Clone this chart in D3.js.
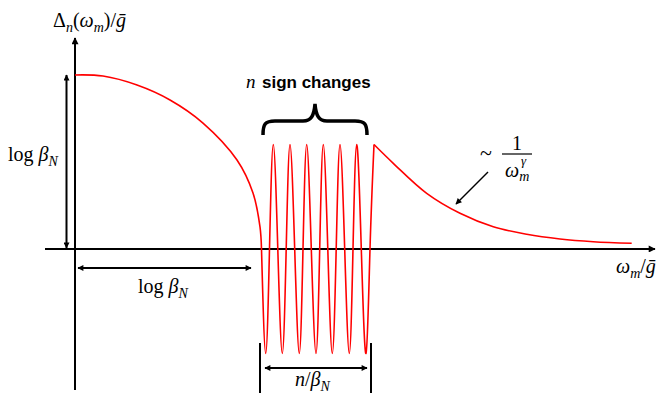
<!DOCTYPE html>
<html>
<head>
<meta charset="utf-8">
<script src="https://cdn.jsdelivr.net/npm/d3@7"></script>
<style>
  body { margin: 0; background: #fff; }
</style>
</head>
<body>
<div id="chart"></div>
<script>
// schematic gap function Delta_n(omega_m)
const omegaLeft = [0, 0.28, 0.62, 0.95, 1.28, 1.62, 1.78, 1.85, 1.865];
const deltaLeft = [1.666, 1.656, 1.570, 1.427, 1.206, 0.852, 0.536, 0.211, 0];

// oscillating region: zeros, troughs and peaks
const omegaOsc = [1.865, 1.907, 1.945, 1.983, 2.028, 2.073, 2.112, 2.15, 2.197, 2.243, 2.280, 2.317,
                  2.363, 2.41, 2.447, 2.483, 2.528, 2.573, 2.612, 2.65, 2.697, 2.743, 2.780, 2.817,
                  2.863, 2.91, 2.950, 2.99];
const deltaOsc = [0, -1, 0, 1, 0, -1, 0, 1, 0, -1, 0, 1,
                  0, -1, 0, 1, 0, -1, 0, 1, 0, -1, 0, 1,
                  0, -1, 0, 1];

// tail ~ 1/omega^gamma
const omegaTail = [2.99, 3.183, 3.517, 3.85, 4.183, 4.517, 4.85, 5.183, 5.567];
const deltaTail = [1, 0.820, 0.533, 0.342, 0.213, 0.141, 0.096, 0.070, 0.055];

const SERIF = 'Liberation Serif';
const SANS = 'Liberation Sans';

const W = 659, H = 396;
const svg = d3.select('#chart').append('svg').attr('width', W).attr('height', H);

const x = d3.scaleLinear().domain([-0.30, 5.80]).range([45, 655]);
const y = d3.scaleLinear().domain([-1.35, 2.02]).range([390, 38]);

const zip = (a, b) => a.map((w, i) => [w, b[i]]);

// arrow heads
const defs = svg.append('defs');
const mk = (id, w, h) => defs.append('marker')
  .attr('id', id).attr('viewBox', '0 0 10 10')
  .attr('refX', 9).attr('refY', 5)
  .attr('markerWidth', w).attr('markerHeight', h)
  .attr('markerUnits', 'userSpaceOnUse')
  .attr('orient', 'auto-start-reverse')
  .append('path').attr('d', 'M0,0 L10,5 L0,10 Z').attr('fill', '#000');
mk('ax', 9, 7);
mk('ar', 8, 6);

// axes
svg.append('line')
  .attr('x1', x(0)).attr('x2', x(0)).attr('y1', y(-1.35)).attr('y2', y(2.02))
  .attr('stroke', '#000').attr('stroke-width', 2).attr('marker-end', 'url(#ax)');
svg.append('line')
  .attr('x1', x(-0.30)).attr('x2', x(5.80)).attr('y1', y(0)).attr('y2', y(0))
  .attr('stroke', '#000').attr('stroke-width', 2).attr('marker-end', 'url(#ax)');

// curve, drawn in three smooth pieces
const seg = (data, curve) => svg.append('path').datum(data)
  .attr('d', d3.line().x(d => x(d[0])).y(d => y(d[1])).curve(curve))
  .attr('fill', 'none').attr('stroke', '#f00').attr('stroke-width', 1.6);
seg(zip(omegaLeft, deltaLeft), d3.curveCatmullRom);
seg(zip(omegaOsc, deltaOsc), d3.curveNatural);
seg(zip(omegaTail, deltaTail), d3.curveCatmullRom);

// double arrows
const dbl = (x1, y1, x2, y2) => svg.append('line')
  .attr('x1', x1).attr('y1', y1).attr('x2', x2).attr('y2', y2)
  .attr('stroke', '#000').attr('stroke-width', 2)
  .attr('marker-start', 'url(#ar)').attr('marker-end', 'url(#ar)');
dbl(x(-0.085), y(deltaLeft[0]), x(-0.085), y(0) - 1);
dbl(x(0.03), 268, x(1.76), 268);
dbl(265, 368, 367, 368);

// bracket verticals for n/beta_N
[260, 371].forEach(px => svg.append('line')
  .attr('x1', px).attr('x2', px).attr('y1', 343).attr('y2', 393)
  .attr('stroke', '#000').attr('stroke-width', 2));

// curly brace
svg.append('path')
  .attr('d', 'M263,135 C263,124 265,121 275,121 L303,121 C311,121 314,116 315,104 ' +
             'C316,116 319,121 327,121 L355,121 C365,121 367,124 367,135')
  .attr('fill', 'none').attr('stroke', '#000').attr('stroke-width', 3.5);

// annotation arrow for the tail
svg.append('line')
  .attr('x1', 488).attr('y1', 172).attr('x2', 456).attr('y2', 204)
  .attr('stroke', '#000').attr('stroke-width', 1.4).attr('marker-end', 'url(#ar)');

// ---- texts ----
const t = (px, py, size) => svg.append('text')
  .attr('x', px).attr('y', py).attr('font-size', size)
  .attr('font-family', SERIF).attr('fill', '#000');
const it = (sel, s, size, dy) => {
  const ts = sel.append('tspan').attr('font-style', 'italic').text(s);
  if (size) ts.attr('font-size', size);
  if (dy) ts.attr('dy', dy);
  return ts;
};

// y label: Delta_n(omega_m)/g-bar
const yl = t(53, 27, 20);
yl.append('tspan').text('Δ');
it(yl, 'n', 14, 5);
yl.append('tspan').attr('dy', -5).text('(');
it(yl, 'ω');
it(yl, 'm', 14, 5);
yl.append('tspan').attr('dy', -5).text(')/');
it(yl, 'ḡ');

// x label
const xl = t(616, 273, 20);
it(xl, 'ω');
it(xl, 'm', 14, 5);
xl.append('tspan').attr('dy', -5).text('/');
it(xl, 'ḡ');

// log beta_N labels
const logb = (px, py) => {
  const g = t(px, py, 20);
  g.append('tspan').text('log ');
  it(g, 'β');
  it(g, 'N', 14, 5);
};
logb(8, 161);
logb(138, 293);

// n/beta_N
const nb = t(295, 386, 20);
it(nb, 'n');
nb.append('tspan').text('/');
it(nb, 'β');
it(nb, 'N', 14, 5);

// n sign changes
const sc = t(246, 88, 19);
it(sc, 'n ');
sc.append('tspan')
  .attr('font-family', SANS)
  .attr('font-weight', 'bold').attr('font-size', 17).attr('x', 262).text('sign changes');

// ~ 1/omega_m^gamma
t(480, 160, 22).text('~');
t(517, 150, 20).attr('text-anchor', 'middle').text('1');
svg.append('line').attr('x1', 502).attr('x2', 532).attr('y1', 154).attr('y2', 154)
  .attr('stroke', '#000').attr('stroke-width', 1.2);
const den = t(505, 177, 20);
it(den, 'ω');
it(den, 'm', 14, 4);
t(521, 165, 13).attr('font-style', 'italic').text('γ');
</script>
</body>
</html>
